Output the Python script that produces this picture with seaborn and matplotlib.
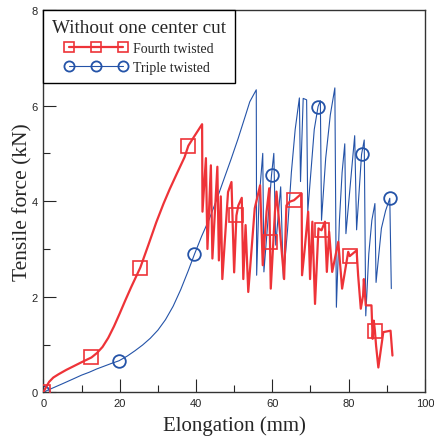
import numpy as np
import pandas as pd
import seaborn as sns
import matplotlib
matplotlib.use("Agg")
import matplotlib.pyplot as plt

# ---------------- data ----------------
red_x = [0, 0.5, 1.5, 2.6, 4, 6, 8, 10, 12.6, 14, 15.5, 17, 18.5, 20, 21.5, 23, 25.4, 27.5,
         29.6, 31.5, 33.1, 35, 37, 38, 39.5, 41.6,
         41.7, 42.6, 43.0, 43.9, 44.3, 45.6, 46.0, 46.5, 46.9, 48.4, 49.3, 50.0, 50.6, 51.1,
         52.0, 52.4, 53.0, 53.7, 55.4, 56.8, 57.5, 58.5, 59.2, 59.4, 59.6, 60.7, 61.1,
         63.1, 63.7, 64.6, 65.7, 67.7, 67.8, 68.5, 69.4, 69.9, 70.5, 71.2, 72.1, 72.9,
         73.8, 74.3, 74.9, 75.7, 77.3, 78.3, 79.9, 80.3, 82.1, 82.5, 83.2, 83.8, 84.0,
         84.5, 86.0, 86.3, 86.6, 86.9, 87.2, 87.8, 89.1, 91.0, 91.5]
red_y = [0, 0.08, 0.22, 0.31, 0.38, 0.47, 0.55, 0.63, 0.73, 0.82, 0.95, 1.14, 1.38, 1.65, 1.93, 2.2,
         2.61, 3.08, 3.56, 3.95, 4.25, 4.58, 4.92, 5.16, 5.35, 5.61,
         3.78, 4.9, 3.0, 4.75, 2.8, 4.72, 2.76, 4.1, 2.37, 4.19, 4.4, 2.51, 3.7, 3.91,
         4.07, 2.37, 3.5, 2.1, 3.85, 4.33, 2.66, 3.78, 4.27, 3.15, 2.17, 3.78, 4.2,
         2.37, 3.91, 3.99, 4.02, 4.16, 2.45, 3.0, 3.78, 2.37, 3.57, 1.85, 3.43, 3.39,
         3.57, 2.52, 3.36, 2.52, 3.15, 2.17, 2.94, 2.85, 2.97, 2.45, 1.75, 2.03, 2.37,
         1.82, 1.82, 1.12, 1.5, 1.29, 0.98, 0.52, 1.26, 1.29, 0.77]
red_marker_x = [0, 12.6, 25.4, 38, 50.6, 59.4, 65.7, 72.9, 80.3, 86.9]

blue_x = [0, 1, 3, 5, 7.8, 10, 12, 14, 16, 18, 19.8, 22, 24, 26, 28, 30, 32, 34, 36, 38,
          39.6, 41.5, 43.5, 45.5, 47.5, 49.2, 51, 53, 54.1, 55.8,
          55.9, 56.5, 57.5, 57.8, 59.8, 60.4, 60.9, 62.2, 62.9, 64.0, 65.0, 66.0, 67.1,
          67.4, 68.1, 69.0, 69.3, 71.0, 72.0, 72.6, 72.9, 74.0, 75.2, 76.4, 76.8, 77.6,
          78.3, 79.0, 79.3, 81.6, 82.1, 83.4, 84.1, 84.5, 85.3, 86.1, 86.9, 87.2, 88.6,
          89.7, 90.8, 91.2]
blue_y = [0, 0.04, 0.11, 0.18, 0.28, 0.36, 0.42, 0.49, 0.55, 0.61, 0.66, 0.76, 0.87, 0.99,
          1.13, 1.3, 1.52, 1.8, 2.15, 2.55,
          2.89, 3.27, 3.63, 4.05, 4.5, 4.88, 5.3, 5.8, 6.08, 6.33,
          2.45, 4.0, 5.0, 2.52, 4.55, 5.0, 3.08, 4.3, 2.38, 3.4, 4.6, 5.5, 6.16,
          4.41, 6.15, 6.12, 3.78, 5.5, 5.98, 6.1, 3.6, 4.9, 5.8, 6.37, 1.78, 3.6,
          4.6, 5.2, 3.32, 5.37, 3.4, 4.98, 5.28, 1.6, 2.9, 3.6, 3.95, 2.3, 3.43,
          3.8, 4.06, 2.17]
blue_marker_x = [0, 19.8, 39.6, 59.8, 72.0, 83.4, 90.8]

series_names = ["Fourth twisted", "Triple twisted"]
legend_title = "Without one center cut"
x_label = "Elongation (mm)"
y_label = "Tensile force (kN)"
x_ticks = [0, 20, 40, 60, 80, 100]
y_ticks = [0, 2, 4, 6, 8]

# ---------------- figure ----------------
sns.set_style("ticks")
plt.rcParams["font.family"] = ["Liberation Sans", "DejaVu Sans"]

fig = plt.figure(figsize=(4.34, 4.39), dpi=100)
ax = fig.add_axes([0.100, 0.104, 0.879, 0.871])

red_df = pd.DataFrame({"x": red_x, "y": red_y})
blue_df = pd.DataFrame({"x": blue_x, "y": blue_y})
red_idx = [red_x.index(v) for v in red_marker_x]
blue_idx = [blue_x.index(v) for v in blue_marker_x]

red_c = "#EE3338"
blue_c = "#2453A8"

sns.lineplot(data=blue_df, x="x", y="y", sort=False, estimator=None, ax=ax,
             color=blue_c, linewidth=0.8, marker="o", markersize=9.1,
             markerfacecolor="none", markeredgecolor=blue_c, markeredgewidth=1.3,
             markevery=blue_idx, label=series_names[1], zorder=2)
sns.lineplot(data=red_df, x="x", y="y", sort=False, estimator=None, ax=ax,
             color=red_c, linewidth=1.6, marker="s", markersize=9.4,
             markerfacecolor="none", markeredgecolor=red_c, markeredgewidth=1.2,
             markevery=red_idx, label=series_names[0], zorder=3)

ax.set_xlim(0, 100)
ax.set_ylim(0, 8)
ax.set_xticks(x_ticks)
ax.set_yticks(y_ticks)
ax.set_xticks(np.arange(10, 100, 20), minor=True)
ax.set_yticks(np.arange(1, 8, 2), minor=True)
ax.tick_params(which="major", direction="in", length=9.5, width=0.8, labelsize=8, pad=4,
               top=False, right=False)
ax.tick_params(which="minor", direction="in", length=5, width=0.8, top=False, right=False)
for s in ax.spines.values():
    s.set_visible(True)
    s.set_linewidth(1.0)
    s.set_color("#333333")

serif = ["Liberation Serif", "DejaVu Serif"]
ax.set_xlabel(x_label, fontsize=15, family=serif, labelpad=5.5)
ax.set_ylabel(y_label, fontsize=15.5, family=serif, labelpad=-0.5)

handles, labels = ax.get_legend_handles_labels()
order = [labels.index(n) for n in series_names]
leg = ax.legend([handles[i] for i in order], [labels[i] for i in order],
                title=legend_title, loc="upper left", bbox_to_anchor=(0, 1),
                borderaxespad=0, frameon=True, fancybox=False, framealpha=1,
                edgecolor="black", numpoints=3, handlelength=4.46, handletextpad=0.45,
                prop={"family": serif, "size": 10}, labelspacing=0.42,
                borderpad=0.65)
leg.get_title().set_fontfamily(serif)
leg.get_title().set_fontsize(13.8)
leg.get_frame().set_linewidth(1.0)
for h in leg.legend_handles:
    h.set_markevery(None)
    h.set_markersize(7.3)

fig.savefig("out.png", dpi=100)
